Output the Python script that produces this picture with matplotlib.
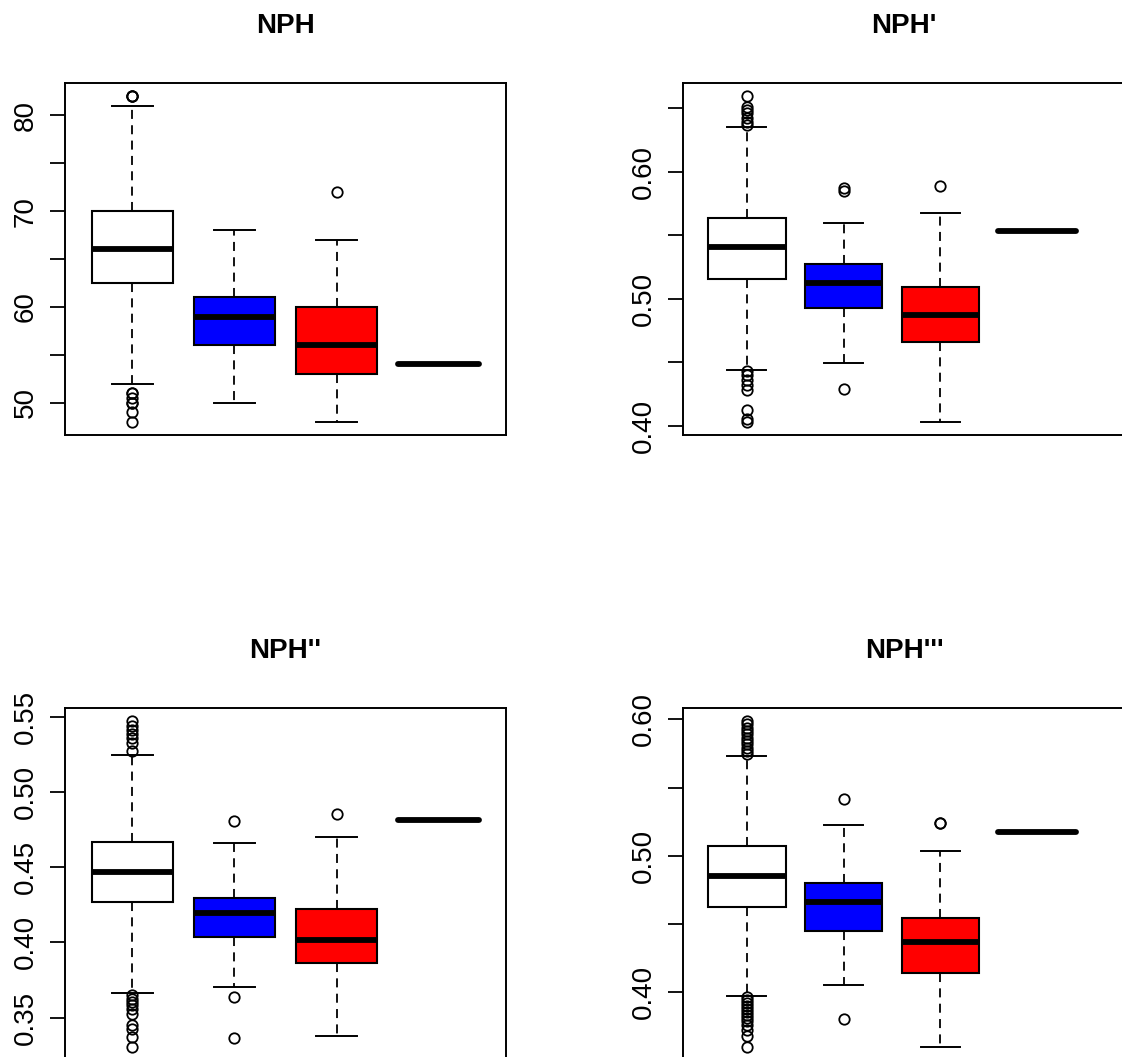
import matplotlib.pyplot as plt
import numpy as np

plt.rcParams['font.family'] = ['Liberation Sans', 'DejaVu Sans']

titles = ["NPH", "NPH'", "NPH''", "NPH'''"]
box_colors = ["white", "blue", "red", "white"]

# NPH
nph_q1 = [62.5, 56, 53, 54]
nph_med = [66, 59, 56, 54]
nph_q3 = [70, 61, 60, 54]
nph_lo = [52, 50, 48, 54]
nph_hi = [81, 68, 67, 54]
nph_out = [[82, 82, 82, 51, 51, 50.5, 50, 50, 49, 48], [], [72], []]
nph_ticks = [50, 55, 60, 65, 70, 75, 80]
nph_labels = ["50", "", "60", "", "70", "", "80"]

# NPH'
nph1_q1 = [0.5157, 0.4931, 0.4661, 0.5536]
nph1_med = [0.5408, 0.5127, 0.4876, 0.5536]
nph1_q3 = [0.5636, 0.5272, 0.5091, 0.5536]
nph1_lo = [0.4443, 0.4496, 0.4032, 0.5536]
nph1_hi = [0.6351, 0.5594, 0.5673, 0.5536]
nph1_out = [[0.6595, 0.6511, 0.6485, 0.6459, 0.6420, 0.6393, 0.6367,
             0.4435, 0.4402, 0.4363, 0.4324, 0.4284, 0.4127, 0.4053, 0.4035],
            [0.5874, 0.5851, 0.4289], [0.5885], []]
nph1_ticks = [0.40, 0.45, 0.50, 0.55, 0.60, 0.65]
nph1_labels = ["0.40", "", "0.50", "", "0.60", ""]

# NPH''
nph2_q1 = [0.4267, 0.4033, 0.3865, 0.4813]
nph2_med = [0.4465, 0.4196, 0.4017, 0.4813]
nph2_q3 = [0.4664, 0.4293, 0.4220, 0.4813]
nph2_lo = [0.3663, 0.3703, 0.3376, 0.4813]
nph2_hi = [0.5244, 0.4663, 0.4702, 0.4813]
nph2_out = [[0.5471, 0.5438, 0.5412, 0.5383, 0.5357, 0.5328, 0.5273,
             0.3648, 0.3626, 0.3603, 0.3582, 0.3560, 0.3527, 0.3449, 0.3427, 0.3371, 0.3305],
            [0.4804, 0.3637, 0.3367], [0.4850], []]
nph2_ticks = [0.35, 0.40, 0.45, 0.50, 0.55]
nph2_labels = ["0.35", "0.40", "0.45", "0.50", "0.55"]

# NPH'''
nph3_q1 = [0.4628, 0.4450, 0.4140, 0.5171]
nph3_med = [0.4849, 0.4664, 0.4367, 0.5171]
nph3_q3 = [0.5074, 0.4801, 0.4542, 0.5171]
nph3_lo = [0.3972, 0.4050, 0.3599, 0.5171]
nph3_hi = [0.5730, 0.5225, 0.5037, 0.5171]
nph3_out = [[0.5988, 0.5966, 0.5937, 0.5915, 0.5893, 0.5864, 0.5842, 0.5820, 0.5790, 0.5768, 0.5746,
             0.3963, 0.3941, 0.3919, 0.3897, 0.3875, 0.3853, 0.3831, 0.3809, 0.3787, 0.3758,
             0.3721, 0.3677, 0.3599],
            [0.5420, 0.3807], [0.5237, 0.5237], []]
nph3_ticks = [0.40, 0.45, 0.50, 0.55, 0.60]
nph3_labels = ["0.40", "", "0.50", "", "0.60"]

panels = [
    (nph_q1, nph_med, nph_q3, nph_lo, nph_hi, nph_out, nph_ticks, nph_labels),
    (nph1_q1, nph1_med, nph1_q3, nph1_lo, nph1_hi, nph1_out, nph1_ticks, nph1_labels),
    (nph2_q1, nph2_med, nph2_q3, nph2_lo, nph2_hi, nph2_out, nph2_ticks, nph2_labels),
    (nph3_q1, nph3_med, nph3_q3, nph3_lo, nph3_hi, nph3_out, nph3_ticks, nph3_labels),
]

W, H = 1122, 1057
fig = plt.figure(figsize=(W / 100, H / 100), dpi=100)

# axes boxes in pixels: left, right, top, bottom, xlim
boxes_px = [
    (65, 506, 83, 435, (0.34, 4.66)),
    (683, 1125, 83, 435, (0.34, 4.91)),
    (65, 506, 708, 1060, (0.34, 4.66)),
    (683, 1125, 708, 1060, (0.34, 4.91)),
]

for i, (q1, med, q3, lo, hi, out, ticks, labels) in enumerate(panels):
    l, r, t, b, xlim = boxes_px[i]
    ax = fig.add_axes([l / W, 1 - b / H, (r - l) / W, (b - t) / H])

    stats = []
    for k in range(4):
        stats.append(dict(med=med[k], q1=q1[k], q3=q3[k], whislo=lo[k], whishi=hi[k],
                          fliers=np.array(out[k])))
    bp = ax.bxp(stats, positions=[1, 2, 3, 4], widths=0.8, capwidths=0.4,
                patch_artist=True, showfliers=True,
                boxprops=dict(linewidth=1.5, edgecolor="black"),
                medianprops=dict(color="black", linewidth=4.2, solid_capstyle="butt"),
                whiskerprops=dict(color="black", linewidth=1.3, linestyle=(0, (5, 3.5))),
                capprops=dict(color="black", linewidth=1.4),
                flierprops=dict(marker="o", markersize=7.5, markerfacecolor="none",
                                markeredgecolor="black", markeredgewidth=1.3))
    for patch, c in zip(bp["boxes"], box_colors):
        patch.set_facecolor(c)
    # the collapsed 4th box keeps rounded ends like the R output
    bp["medians"][3].set_solid_capstyle("round")

    # R style y range: data range plus 4% on each side
    allv = np.concatenate([lo, hi] + [np.array(o) for o in out if len(o)])
    span = allv.max() - allv.min()
    ax.set_ylim(allv.min() - 0.04 * span, allv.max() + 0.04 * span)
    ax.set_xlim(*xlim)

    ax.set_yticks(ticks)
    ax.set_yticklabels(labels, rotation=90, va="center", fontsize=20)
    ax.tick_params(axis="y", direction="out", length=11, width=1.3, pad=8)
    ax.set_xticks([])
    for s in ax.spines.values():
        s.set_linewidth(1.4)

    ax.set_title(titles[i], fontsize=20, fontweight="bold", pad=36)

fig.savefig("out.png", dpi=100)
